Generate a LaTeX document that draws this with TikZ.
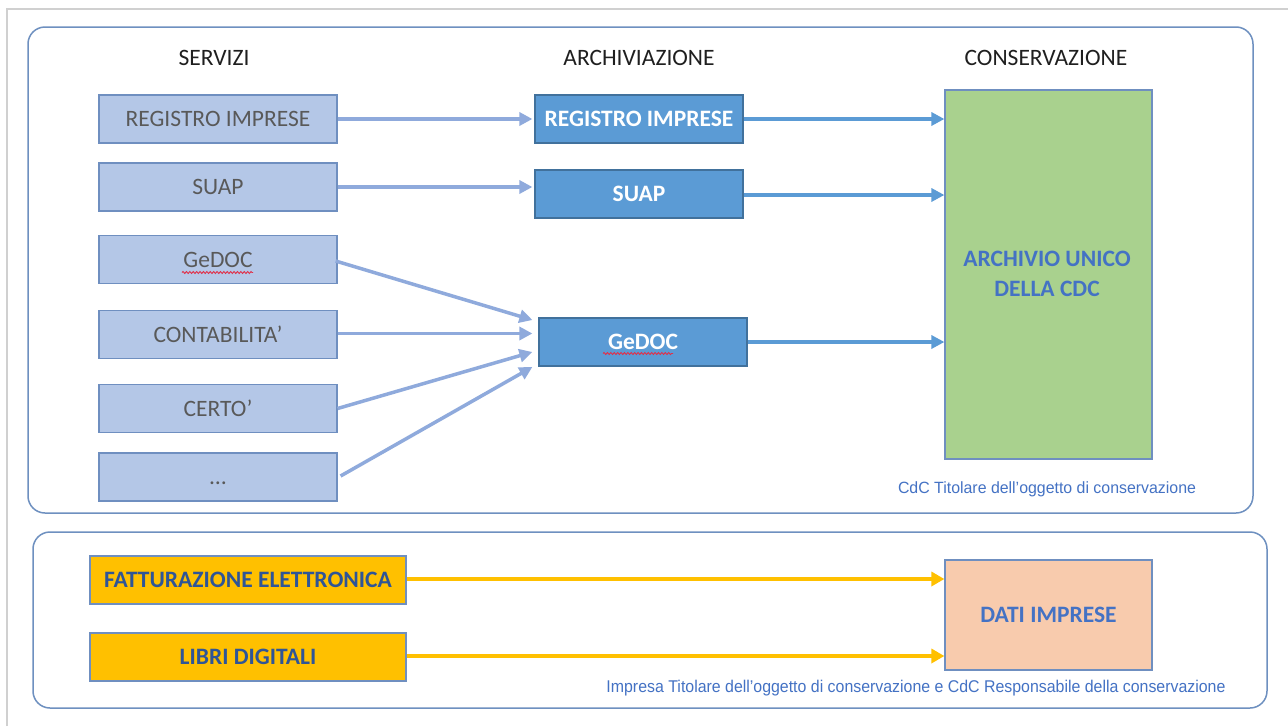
\documentclass[tikz,border=0pt]{standalone}
\usepackage{fontspec}
\setmainfont{Carlito}
\newfontfamily\arialf{Liberation Sans}
\usepackage{graphicx}
\usetikzlibrary{arrows.meta,calc,decorations.pathmorphing}
\definecolor{svcfill}{HTML}{B4C7E7}
\definecolor{svcdraw}{HTML}{6F8FC0}
\definecolor{svctext}{HTML}{595959}
\definecolor{arcfill}{HTML}{5B9BD5}
\definecolor{arcdraw}{HTML}{41719C}
\definecolor{grnfill}{HTML}{A9D18E}
\definecolor{peach}{HTML}{F8CBAD}
\definecolor{gold}{HTML}{FFC000}
\definecolor{navy}{HTML}{2F5597}
\definecolor{capblue}{HTML}{4472C4}
\definecolor{lightarrow}{HTML}{8FAADC}
\definecolor{framegray}{HTML}{D0D0D0}
\definecolor{panelblue}{HTML}{6E90C0}
\definecolor{squig}{HTML}{E0304A}
\begin{document}
\begin{tikzpicture}[x=1pt,y=-1pt,
  box/.style={draw, line width=1.2pt, inner sep=0pt, font=\fontsize{23.5}{30}\selectfont},
  svc/.style={box, fill=svcfill, draw=svcdraw, text=svctext, minimum width=238pt, minimum height=48pt},
  arc/.style={box, fill=arcfill, draw=arcdraw, text=white, font=\fontsize{23.5}{30}\selectfont\bfseries, minimum width=208pt, minimum height=48pt},
  goldbox/.style={box, fill=gold, draw=svcdraw, text=navy, font=\fontsize{23.5}{30}\selectfont\bfseries, minimum width=316pt, minimum height=48pt},
  header/.style={inner sep=0pt, text=black!88, font=\fontsize{23.5}{30}\selectfont},
  caption/.style={inner sep=0pt, text=capblue},
  panel/.style={draw=panelblue, line width=1.5pt, rounded corners=17pt},
  larrow/.style={draw=lightarrow, line width=3.5pt, -{Triangle[length=13pt,width=13pt]}},
  darrow/.style={draw=arcfill, line width=3.2pt, -{Triangle[length=13pt,width=13pt]}},
  yarrow/.style={draw=gold, line width=4pt, -{Triangle[length=13pt,width=14pt]}},
  squiggle/.style={draw=squig, line width=0.9pt, decorate, decoration={snake, amplitude=1pt, segment length=3.4pt}}
]
\useasboundingbox (0,0) rectangle (1288,726);
\fill[white] (0,0) rectangle (1288,726);
% outer frame
\draw[framegray, line width=1.5pt] (7,726) -- (7,9) -- (1288,9);
% panels
\draw[panel] (28,27) rectangle (1253,513);
\draw[panel] (33,532) rectangle (1267,708);

% headers
\node[header] (h1) at (214,58) {SERVIZI};
\node[header] (h2) at (639,58) {ARCHIVIAZIONE};
\node[header] (h3) at (1046,58) {CONSERVAZIONE};

% services
\node[svc] (s1) at (218,119) {REGISTRO IMPRESE};
\node[svc] (s2) at (218,187) {SUAP};
\node[svc] (s3) at (218,259.5) {GeDOC};
\node[svc] (s4) at (218,334.5) {CONTABILITA’};
\node[svc] (s5) at (218,408.5) {CERTO’};
\node[svc] (s6) at (218,477) {\vphantom{A}…};

% archive
\node[arc] (a1) at (639,119) {REGISTRO IMPRESE};
\node[arc] (a2) at (639,194) {SUAP};
\node[arc] (a3) at (643,342) {GeDOC};

% conservation
\node[box, fill=grnfill, draw=svcdraw, minimum width=207pt, minimum height=369pt] (g) at (1048.5,274.5) {};
\node[inner sep=0pt, align=center, text=capblue, font=\fontsize{23.5}{30}\selectfont\bfseries] (gt) at (1047,274) {ARCHIVIO UNICO\\DELLA CDC};
\node[caption] (c1) at (1047,489) {\resizebox{298pt}{\height}{\arialf\fontsize{16.3}{18}\selectfont CdC Titolare dell’oggetto di conservazione}};

% bottom
\node[goldbox] (f1) at (248,580) {FATTURAZIONE ELETTRONICA};
\node[goldbox] (f2) at (248,657) {LIBRI DIGITALI};
\node[box, fill=peach, draw=svcdraw, text=capblue, font=\fontsize{23.5}{30}\selectfont\bfseries, minimum width=207pt, minimum height=110pt] (d) at (1048.5,615) {DATI IMPRESE};
\node[caption] (c2) at (916,688) {\resizebox{619pt}{\height}{\arialf\fontsize{17}{18}\selectfont Impresa Titolare dell’oggetto di conservazione e CdC Responsabile della conservazione}};

% spell-check underlines
\draw[squiggle] ($(s3.center)+(-36,13)$) -- ($(s3.center)+(35,13)$);
\draw[squiggle] ($(a3.center)+(-40,11.5)$) -- ($(a3.center)+(30,11.5)$);

% arrows services -> archive
\draw[larrow] (s1.east) -- ($(s1.east -| a1.west)+(-2,0)$);
\draw[larrow] (s2.east) -- ($(s2.east -| a2.west)+(-2,0)$);
\draw[larrow] ($(s3.east)+(-2,1.5)$) -- ($(a3.west)+(-6,-22)$);
\draw[larrow] ($(s4.east)+(0,-1)$) -- ($(s4.east -| a3.west)+(-6,-1)$);
\draw[larrow] (s5.east) -- ($(a3.west)+(-6,10)$);
\draw[larrow] ($(s6.east)+(3,-1)$) -- ($(a3.west)+(-6,25)$);

% archive -> conservation
\draw[darrow] (a1.east) -- (a1.east -| g.west);
\draw[darrow] ($(a2.east)+(0,1)$) -- ($(a2.east -| g.west)+(0,1)$);
\draw[darrow] (a3.east) -- (a3.east -| g.west);

% bottom arrows
\draw[yarrow] ($(f1.east)+(0,-1)$) -- ($(f1.east -| d.west)+(0,-1)$);
\draw[yarrow] ($(f2.east)+(0,-1)$) -- ($(f2.east -| d.west)+(0,-1)$);
\end{tikzpicture}
\end{document}
